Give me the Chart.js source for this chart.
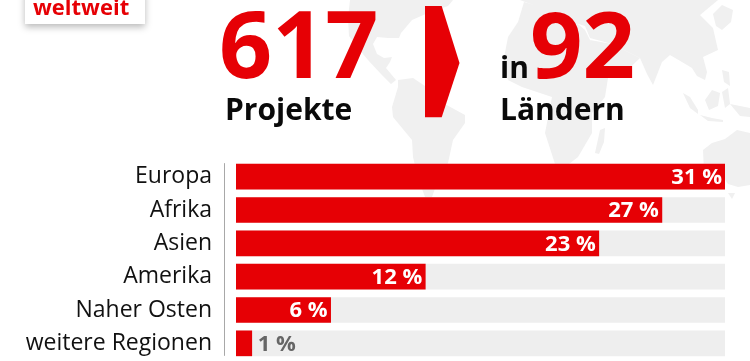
<!DOCTYPE html>
<html><head><meta charset="utf-8">
<style>html,body{margin:0;padding:0;background:#fff;overflow:hidden}#w{position:relative;width:750px;height:361px}canvas{display:block}</style>
<script src="https://cdn.jsdelivr.net/npm/chart.js@4"></script></head>
<body><div id="w"><canvas id="c" width="750" height="361"></canvas></div>
<script>
const categories=["Europa","Afrika","Asien","Amerika","Naher Osten","weitere Regionen"];
const shares=[31,27,23,12,6,1];
const trackFull=[31,31,31,31,31,31];
const shareLabels=["31 %","27 %","23 %","12 %","6 %","1 %"];
const RED="#e60005",TRACK="#eeeeee",MAP="#f0f0f0",FONT='"Open Sans","Noto Sans",sans-serif';

// decorative world map backdrop (page coordinates)
const worldMap=[
 [[350,0],[453,0],[448,6],[428,13],[412,20],[401,33],[399,38],[388,38],[377,37],[373,44],[377,54],[384,58],[392,57],[390,62],[386,68],[396,80],[391,84],[381,74],[368,60],[358,48],[349,36],[348,18]],
 [[398,80],[413,78],[428,88],[443,103],[465,115],[465,123],[453,140],[448,163],[438,180],[432,197],[425,197],[418,178],[413,157],[412,140],[393,117],[392,107],[398,87]],
 [[524,2],[545,8],[566,14],[585,30],[598,56],[608,78],[605,97],[592,113],[592,133],[578,157],[565,167],[556,167],[545,133],[552,97],[522,87],[508,80],[503,63],[508,37],[518,22]],
 [[595,153],[600,130],[605,128],[604,142],[599,154]],
 [[590,40],[612,44],[640,58],[622,75],[608,78],[597,58]],
 [[520,0],[718,0],[700,15],[713,28],[718,50],[703,57],[707,72],[705,80],[697,76],[692,68],[682,62],[670,55],[662,62],[653,85],[647,74],[640,58],[612,44],[590,38],[585,26],[566,20],[552,12],[536,6]],
 [[713,14],[722,5],[733,10],[731,22],[722,30],[716,26]],
 [[683,93],[690,97],[698,110],[698,114],[690,108]],
 [[705,100],[712,90],[720,93],[718,106],[709,110]],
 [[700,115],[712,118],[723,120],[723,122],[708,121]],
 [[722,92],[728,88],[730,104],[725,108]],
 [[722,70],[729,72],[730,86],[724,82]],
 [[730,104],[750,108],[750,117],[740,116]],
 [[703,150],[712,143],[725,139],[737,130],[750,133],[750,185],[738,187],[728,184],[720,172],[704,172]],
 [[728,193],[735,193],[732,199]]
];
const arrowShape=[[425,6],[441.7,6],[459.5,63],[441.7,117.3],[425,117.3]];
const headlines=[
 {t:"617",x:219,y:78,f:'700 93px '+FONT,c:RED},
 {t:"92",x:530,y:78,f:'700 92px '+FONT,c:RED},
 {t:"Projekte",x:225,y:120,f:'700 30px '+FONT,c:"#0a0a0a"},
 {t:"in",x:500,y:78,f:'700 30px '+FONT,c:"#0a0a0a"},
 {t:"Ländern",x:500,y:120,f:'700 30px '+FONT,c:"#0a0a0a"},
 {t:"weltweit",x:33,y:15,f:'700 22px '+FONT,c:RED}
];
const backdrop={id:"backdrop",beforeDraw(ch){
 const g=ch.ctx;g.save();g.fillStyle="#fff";g.fillRect(0,0,750,361);
 g.fillStyle=MAP;
 for(const p of worldMap){g.beginPath();p.forEach((q,i)=>i?g.lineTo(q[0],q[1]):g.moveTo(q[0],q[1]));g.closePath();g.fill();}
 g.save();g.shadowColor="rgba(0,0,0,.28)";g.shadowBlur=7;g.shadowOffsetX=0;g.shadowOffsetY=3;
 g.fillStyle="#fff";g.fillRect(25,-10,120,34);g.restore();
 g.fillStyle=RED;g.beginPath();arrowShape.forEach((q,i)=>i?g.lineTo(q[0],q[1]):g.moveTo(q[0],q[1]));g.closePath();g.fill();
 g.textBaseline="alphabetic";g.textAlign="left";
 for(const h of headlines){g.font=h.f;g.fillStyle=h.c;g.fillText(h.t,h.x,h.y);}
 g.restore();
}};
const barText={id:"barText",afterDatasetsDraw(ch){
 const g=ch.ctx,m=ch.getDatasetMeta(1).data,a=ch.getDatasetMeta(0).data;
 g.save();g.font='700 22px '+FONT;g.textBaseline="middle";
 m.forEach((b,i)=>{
  if(shares[i]<3){g.fillStyle="#666666";g.textAlign="left";g.fillText(shareLabels[i],b.x+6,b.y+1);}
  else{g.fillStyle="#ffffff";g.textAlign="right";g.fillText(shareLabels[i],b.x-3,b.y+1);}
 });
 const x=ch.scales.x.left-11.5;
 g.strokeStyle="#a8a8a8";g.lineWidth=1;g.beginPath();
 g.moveTo(x,a[0].y-13.5);g.lineTo(x,a[5].y+12.5);g.stroke();
 g.restore();
}};
new Chart(document.getElementById("c"),{
 type:"bar",
 data:{labels:categories,datasets:[
  {data:trackFull,backgroundColor:TRACK,order:2},
  {data:shares,backgroundColor:RED,order:1}
 ]},
 options:{
  indexAxis:"y",responsive:false,animation:false,
  layout:{padding:{top:160,bottom:1,left:0,right:25}},
  datasets:{bar:{barThickness:25,grouped:false,borderWidth:0}},
  plugins:{legend:{display:false},tooltip:{enabled:false}},
  scales:{
   x:{display:false,min:0,max:31},
   y:{afterFit(s){s.width=236;s.paddingTop=0;s.paddingBottom=0;},border:{display:false},grid:{display:false},
      ticks:{color:"#111111",padding:16,font:{family:FONT,size:23},autoSkip:false}}
  }
 },
 plugins:[backdrop,barText]
});
</script></body></html>
